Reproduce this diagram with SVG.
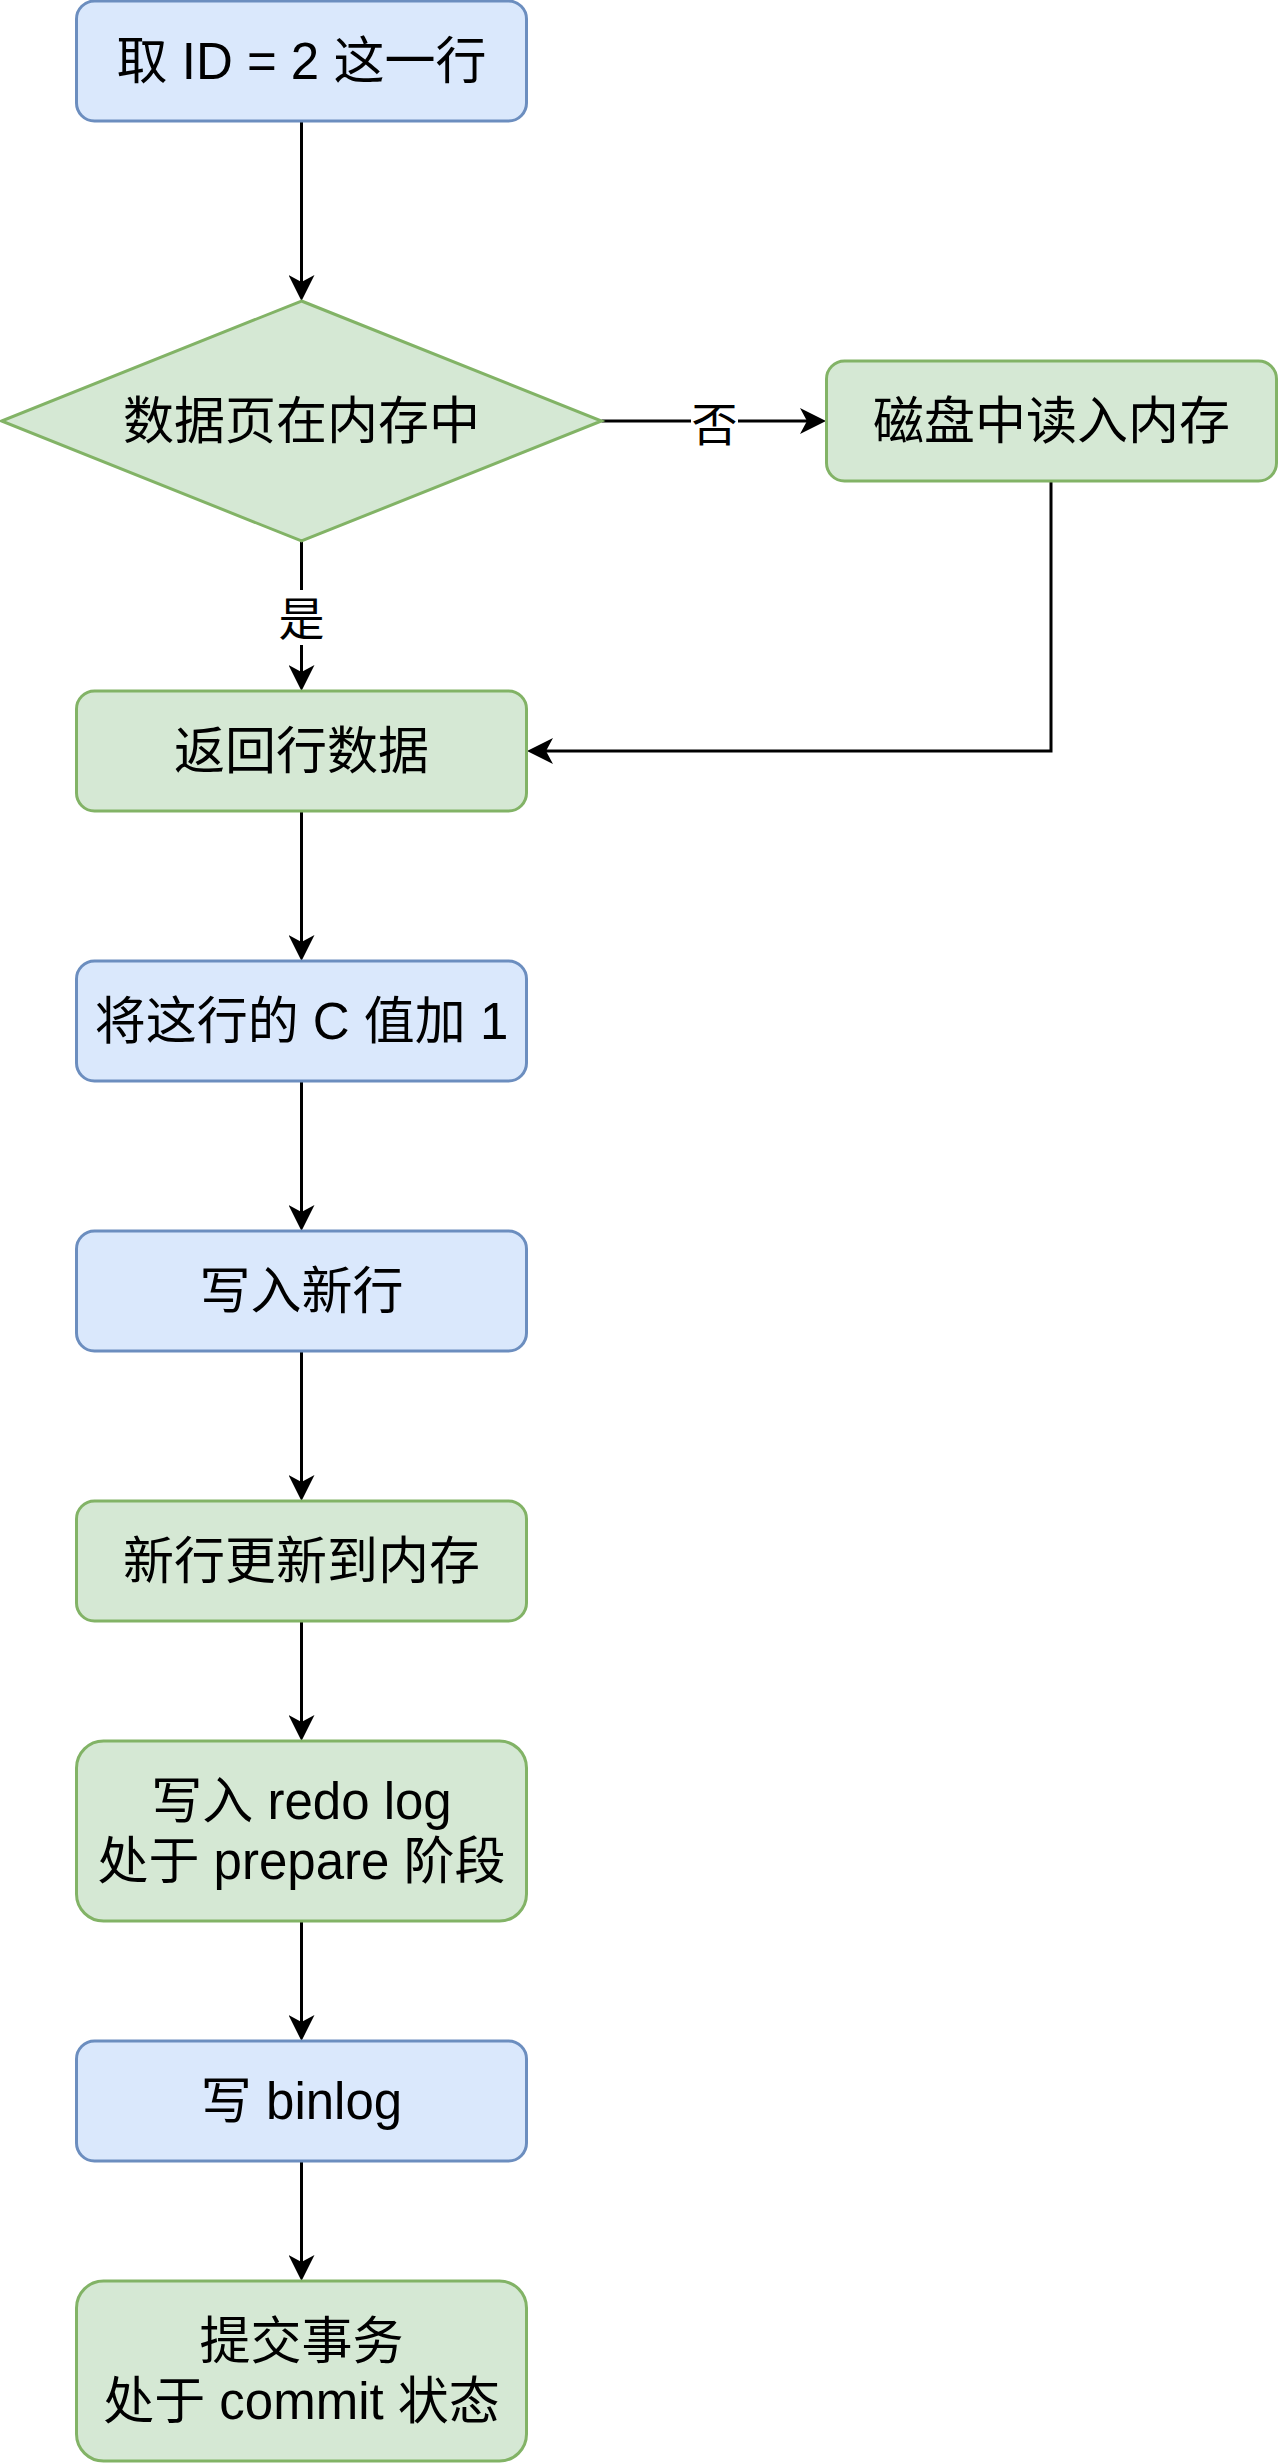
<svg xmlns="http://www.w3.org/2000/svg" width="1278" height="2463" viewBox="0 0 1278 2463">
<style>
.blue{fill:#dae8fc;stroke:#6c8ebf;stroke-width:3}
.green{fill:#d5e8d4;stroke:#82b366;stroke-width:3}
.t{font-family:"Liberation Sans","Noto Sans CJK SC",sans-serif;font-size:51px;fill:#000;text-anchor:middle}
.lbl{font-family:"Liberation Sans","Noto Sans CJK SC",sans-serif;font-size:46px;fill:#000;text-anchor:middle}
.e{fill:none;stroke:#000;stroke-width:3}
</style>
<defs>
<marker id="arr" viewBox="0 0 26 26" markerWidth="26" markerHeight="26" refX="7" refY="13" orient="auto" markerUnits="userSpaceOnUse">
<path d="M0,0 L26,13 L0,26 L7,13 Z" fill="#000"/>
</marker>
</defs>
<rect width="1278" height="2463" fill="#fff"/>
<g id="edges">
<path class="e" d="M301.5,121 V282" marker-end="url(#arr)"/>
<path class="e" d="M601.5,421 H807" marker-end="url(#arr)"/>
<path class="e" d="M301.5,541 V672" marker-end="url(#arr)"/>
<path class="e" d="M1051,481 V751 H546" marker-end="url(#arr)"/>
<path class="e" d="M301.5,811 V942" marker-end="url(#arr)"/>
<path class="e" d="M301.5,1081 V1212" marker-end="url(#arr)"/>
<path class="e" d="M301.5,1351 V1482" marker-end="url(#arr)"/>
<path class="e" d="M301.5,1621 V1722" marker-end="url(#arr)"/>
<path class="e" d="M301.5,1921 V2022" marker-end="url(#arr)"/>
<path class="e" d="M301.5,2161 V2262" marker-end="url(#arr)"/>
<g id="label-no">
<rect x="691" y="395" width="47" height="55" fill="#fff"/>
<text class="lbl" x="714.5" y="441">否</text>
</g>
<g id="label-yes">
<rect x="278" y="590" width="47" height="55" fill="#fff"/>
<text class="lbl" x="301.5" y="635">是</text>
</g>
</g>
<g id="n1">
<rect class="blue" x="76.5" y="1" width="450" height="120" rx="18"/>
<text class="t" x="301.5" y="79">取 ID = 2 这一行</text>
</g>
<g id="n2">
<polygon class="green" points="301.5,301 601.5,421 301.5,541 1.5,421"/>
<text class="t" x="301.5" y="439">数据页在内存中</text>
</g>
<g id="n3">
<rect class="green" x="826.5" y="361" width="450" height="120" rx="18"/>
<text class="t" x="1051.5" y="439">磁盘中读入内存</text>
</g>
<g id="n4">
<rect class="green" x="76.5" y="691" width="450" height="120" rx="18"/>
<text class="t" x="301.5" y="769">返回行数据</text>
</g>
<g id="n5">
<rect class="blue" x="76.5" y="961" width="450" height="120" rx="18"/>
<text class="t" x="301.5" y="1039">将这行的 C 值加 1</text>
</g>
<g id="n6">
<rect class="blue" x="76.5" y="1231" width="450" height="120" rx="18"/>
<text class="t" x="301.5" y="1309">写入新行</text>
</g>
<g id="n7">
<rect class="green" x="76.5" y="1501" width="450" height="120" rx="18"/>
<text class="t" x="301.5" y="1579">新行更新到内存</text>
</g>
<g id="n8">
<rect class="green" x="76.5" y="1741" width="450" height="180" rx="27"/>
<text class="t" x="301.5" y="1819">写入 redo log</text>
<text class="t" x="301.5" y="1879">处于 prepare 阶段</text>
</g>
<g id="n9">
<rect class="blue" x="76.5" y="2041" width="450" height="120" rx="18"/>
<text class="t" x="301.5" y="2119">写 binlog</text>
</g>
<g id="n10">
<rect class="green" x="76.5" y="2281" width="450" height="180" rx="27"/>
<text class="t" x="301.5" y="2359">提交事务</text>
<text class="t" x="301.5" y="2419">处于 commit 状态</text>
</g>
</svg>
